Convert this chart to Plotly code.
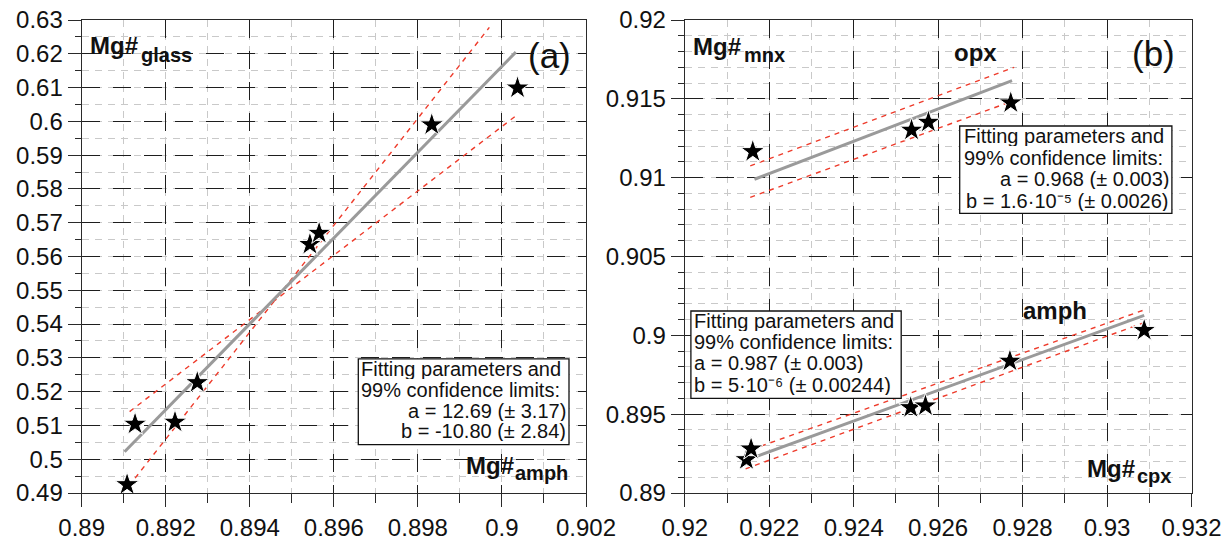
import plotly.graph_objects as go

W, H = 1230, 544
FONT = "Liberation Sans, Arial, sans-serif"
AX = "#2a2a2a"

# ---------------- Panel (a): Mg# glass vs Mg# amph ----------------
amph_mg = [0.89108, 0.89127, 0.89222, 0.89275, 0.89543, 0.89565, 0.89833, 0.90037]
glass_mg = [0.4925, 0.5104, 0.5110, 0.5227, 0.5636, 0.5669, 0.5990, 0.6099]
fit_a_x = [0.89102, 0.90033]
fit_a_y = [0.5022, 0.6205]
conf_a1_x = [0.89127, 0.89970]
conf_a1_y = [0.4944, 0.6278]
conf_a2_x = [0.89114, 0.90037]
conf_a2_y = [0.5141, 0.6020]

xa_ticks = [0.89, 0.892, 0.894, 0.896, 0.898, 0.9, 0.902]
xa_text = ["0.89", "0.892", "0.894", "0.896", "0.898", "0.9", "0.902"]
ya_ticks = [0.49, 0.50, 0.51, 0.52, 0.53, 0.54, 0.55, 0.56, 0.57, 0.58, 0.59, 0.60, 0.61, 0.62, 0.63]
ya_text = ["0.49", "0.5", "0.51", "0.52", "0.53", "0.54", "0.55", "0.56", "0.57", "0.58",
           "0.59", "0.6", "0.61", "0.62", "0.63"]

# ---------------- Panel (b): Mg# mnx vs Mg# cpx ----------------
cpx_opx = [0.92161, 0.92537, 0.92577, 0.92772]
opx_mg = [0.91166, 0.91302, 0.91352, 0.91475]
fit_opx_x = [0.92165, 0.92775]
fit_opx_y = [0.90990, 0.91615]
up_opx_x = [0.92155, 0.92780]
up_opx_y = [0.91075, 0.91700]
lo_opx_x = [0.92155, 0.92770]
lo_opx_y = [0.90875, 0.91480]

cpx_amph = [0.92146, 0.92157, 0.92535, 0.92570, 0.92770, 0.93088]
amph_mg_b = [0.89212, 0.89280, 0.89542, 0.89553, 0.89837, 0.90032]
fit_amph_x = [0.92172, 0.93088]
fit_amph_y = [0.89234, 0.90127]
up_amph_x = [0.92158, 0.93093]
up_amph_y = [0.89276, 0.90166]
lo_amph_x = [0.92144, 0.93088]
lo_amph_y = [0.89153, 0.90081]

xb_ticks = [0.92, 0.922, 0.924, 0.926, 0.928, 0.93, 0.932]
xb_text = ["0.92", "0.922", "0.924", "0.926", "0.928", "0.93", "0.932"]
yb_ticks = [0.89, 0.895, 0.9, 0.905, 0.91, 0.915, 0.92]
yb_text = ["0.89", "0.895", "0.9", "0.905", "0.91", "0.915", "0.92"]


def px(x):
    return x / W


def py(y):
    return 1 - y / H


XA_DOM = [px(81.7), px(586.0)]
XB_DOM = [px(684.8), px(1191.5)]
Y_DOM = [51 / H, 524 / H]

fig = go.Figure()

RED = "#ee3b2b"
GREY = "#9a9a9a"


def add_panel(xref, yref, lines_red, line_fit, stars):
    for (xs, ys) in lines_red:
        fig.add_trace(go.Scatter(x=xs, y=ys, mode="lines", xaxis=xref, yaxis=yref,
                                 line=dict(color=RED, width=1.4, dash="5px,5px"),
                                 showlegend=False, hoverinfo="skip"))
    for (xs, ys) in line_fit:
        fig.add_trace(go.Scatter(x=xs, y=ys, mode="lines", xaxis=xref, yaxis=yref,
                                 line=dict(color=GREY, width=3),
                                 showlegend=False, hoverinfo="skip"))
    for (xs, ys) in stars:
        fig.add_trace(go.Scatter(x=xs, y=ys, mode="markers", xaxis=xref, yaxis=yref,
                                 marker=dict(symbol="star", size=18, color="black",
                                             line=dict(color="white", width=1)),
                                 showlegend=False))


add_panel("x", "y",
          [(conf_a1_x, conf_a1_y), (conf_a2_x, conf_a2_y)],
          [(fit_a_x, fit_a_y)],
          [(amph_mg, glass_mg)])
add_panel("x2", "y2",
          [(up_opx_x, up_opx_y), (lo_opx_x, lo_opx_y),
           (up_amph_x, up_amph_y), (lo_amph_x, lo_amph_y)],
          [(fit_opx_x, fit_opx_y), (fit_amph_x, fit_amph_y)],
          [(cpx_opx, opx_mg), (cpx_amph, amph_mg_b)])


def main_axis(dom, rng, tv, tt, mdt, anchor, is_x):
    return dict(
        domain=dom, range=rng, anchor=anchor, automargin=False,
        tickmode="array", tickvals=tv, ticktext=tt,
        ticks="outside", ticklen=13, tickwidth=1.3, tickcolor=AX,
        showline=True, linecolor=AX, linewidth=1.3, mirror=True,
        showgrid=True, gridcolor="#1e1e1e", gridwidth=1.1, griddash="18px,13px",
        zeroline=False,
        minor=dict(tick0=rng[0], dtick=mdt, ticks="outside",
                   ticklen=9 if is_x else 6, tickwidth=1.2, tickcolor=AX,
                   showgrid=True, gridcolor="#c9c9c9", gridwidth=1, griddash="7px,6px"),
        tickfont=dict(family=FONT, size=24, color="#111"),
    )


def mirror_axis(rng, tv, mdt, anchor, overlay, side):
    return dict(
        range=rng, anchor=anchor, overlaying=overlay, side=side, automargin=False,
        tickmode="array", tickvals=tv,
        ticks="inside", ticklen=12, tickwidth=1.3, tickcolor=AX,
        showticklabels=False, showgrid=False, zeroline=False, showline=False,
        minor=dict(tick0=rng[0], dtick=mdt, ticks="inside", ticklen=7,
                   tickwidth=1.2, tickcolor=AX, showgrid=False),
    )


XA_R = [0.89, 0.902]
YA_R = [0.49, 0.63]
XB_R = [0.92, 0.932]
YB_R = [0.89, 0.92]

fig.update_layout(
    width=W, height=H,
    margin=dict(l=0, r=0, t=0, b=0, pad=0, autoexpand=False),
    paper_bgcolor="white", plot_bgcolor="white",
    showlegend=False,
    xaxis=main_axis(XA_DOM, XA_R, xa_ticks, xa_text, 0.001, "y", True),
    yaxis=main_axis(Y_DOM, YA_R, ya_ticks, ya_text, 0.005, "x", False),
    xaxis2=main_axis(XB_DOM, XB_R, xb_ticks, xb_text, 0.001, "y2", True),
    yaxis2=main_axis(Y_DOM, YB_R, yb_ticks, yb_text, 0.001, "x2", False),
    xaxis3=mirror_axis(XA_R, xa_ticks, 0.001, "y", "x", "top"),
    yaxis3=mirror_axis(YA_R, ya_ticks, 0.005, "x", "y", "right"),
    xaxis4=mirror_axis(XB_R, xb_ticks, 0.001, "y2", "x2", "top"),
    yaxis4=mirror_axis(YB_R, yb_ticks, 0.001, "x2", "y2", "right"),
)

# boxes for fitting parameters
boxes = [(358.3, 358.9, 569.0, 444.6), (959.7, 126.0, 1171.9, 213.3), (690.9, 311.0, 901.2, 398.3)]
for (x0, y0, x1, y1) in boxes:
    fig.add_shape(type="rect", xref="paper", yref="paper",
                  x0=px(x0), x1=px(x1), y0=py(y1), y1=py(y0),
                  fillcolor="white", line=dict(color="#111", width=1.3), layer="above")

ann = []


def txt(t, x, y, xanchor="left", size=20, bold=False, h=None):
    d = dict(text=("<b>%s</b>" % t) if bold else t, x=px(x), y=py(y),
             xref="paper", yref="paper", xanchor=xanchor, yanchor="middle",
             showarrow=False, borderpad=0,
             font=dict(family=FONT, size=size, color="#111"))
    if h is not None:
        d["height"] = h
        d["valign"] = "middle"
    ann.append(d)


# panel (a) box
txt("Fitting parameters and", 360.0, 369.4, h=20)
txt("99% confidence limits:", 360.0, 390.0, h=20)
txt("a = 12.69 (± 3.17)", 566.5, 410.5, "right", h=20)
txt("b = -10.80 (± 2.84)", 566.5, 431.0, "right", h=20)
# panel (b) opx box
txt("Fitting parameters and", 962.5, 136.0, h=20)
txt("99% confidence limits:", 962.5, 157.7, h=20)
txt("a = 0.968 (± 0.003)", 1169.5, 179.4, "right", h=20)
txt("b = 1.6·10⁻⁵ (± 0.0026)", 1169.5, 200.5, "right", h=20)
# panel (b) amph box
txt("Fitting parameters and", 692.5, 321.0, h=20)
txt("99% confidence limits:", 692.5, 342.0, h=20)
txt("a = 0.987 (± 0.003)", 692.5, 362.7, h=20)
txt("b = 5·10⁻⁶ (± 0.00244)", 692.5, 384.5, h=20)

# axis labels: "Mg#" with a subscript written as a second, smaller text
txt("Mg#", 89.0, 45.0, "left", 24, True)
txt("glass", 139.5, 54.8, "left", 20, True)
txt("Mg#", 514.5, 465.0, "right", 24, True)
txt("amph", 569.0, 473.0, "right", 20, True)
txt("Mg#", 691.5, 46.7, "left", 24, True)
txt("mnx", 742.5, 54.8, "left", 20, True)
txt("Mg#", 1135.5, 468.4, "right", 24, True)
txt("cpx", 1171.5, 475.5, "right", 20, True)
txt("opx", 975.0, 52.0, "center", 24, True)
txt("amph", 1054.5, 310.0, "center", 24, True)
txt("(a)", 549.0, 55.5, "center", 35)
txt("(b)", 1153.0, 54.0, "center", 35)

fig.update_layout(annotations=ann)

fig.write_html("out.html", config={"displayModeBar": False},
               post_script="document.body.style.margin='0px';")
